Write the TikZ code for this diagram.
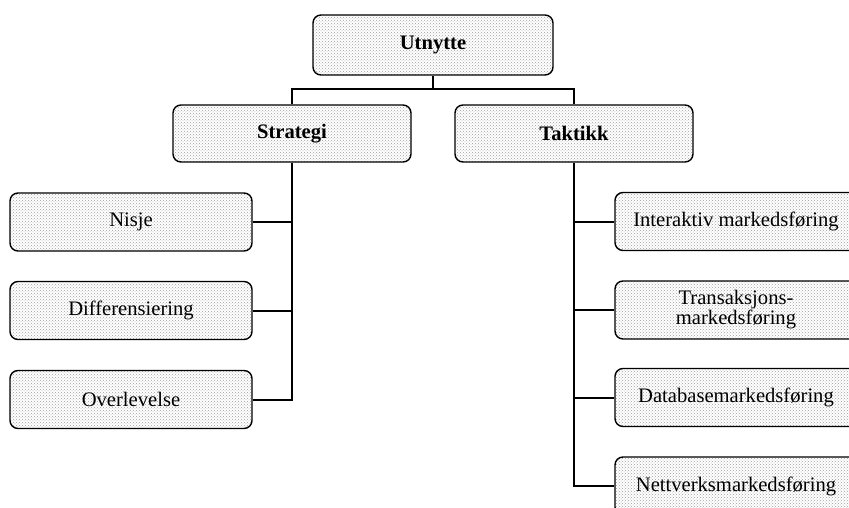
\documentclass[tikz,border=0pt]{standalone}
\usepackage{fontspec}
\setmainfont{Liberation Serif}
\usetikzlibrary{patterns}
\tikzset{
  box/.style={draw=black, line width=1.4pt, rounded corners=8pt,
    preaction={fill=white}, pattern=crosshatch dots, pattern color=gray!75,
    minimum width=242pt, minimum height=58pt, inner sep=0pt, align=center,
    font=\fontsize{20.6}{20}\selectfont},
  topbox/.style={box, font=\fontsize{20.6}{20}\selectfont\bfseries},
  link/.style={draw=black, line width=2pt}
}
\begin{document}
\begin{tikzpicture}[x=1pt,y=-1pt]
  \useasboundingbox (0,0) rectangle (849,508);
  \clip (0,0) rectangle (849,508);
  % levels
  \node[topbox, minimum width=240pt, minimum height=60pt] (u) at (433,45) {Utnytte};
  \node[topbox, minimum width=238pt, minimum height=57pt] (s) at (292,133.5) {Strategi};
  \node[topbox, minimum width=238pt, minimum height=57pt] (t) at (574,133.5) {Taktikk};
  \coordinate (bar) at (433,89);
  % strategy branch
  \node[box] (n) at (131,222) {Nisje};
  \node[box] (d) at (131,310.5) {Differensiering};
  \node[box] (o) at (131,399.5) {Overlevelse};
  % tactics branch
  \node[box] (i) at (736,221.5) {Interaktiv markedsføring};
  \node[box] (r) at (736,310) {Transaksjons-\\markedsføring};
  \node[box] (b) at (736,397.5) {Databasemarkedsføring};
  \node[box] (w) at (736,486) {Nettverksmarkedsføring};
  % connectors
  \draw[link] (u.south) -- (bar);
  \draw[link] (s.north) |- (bar) -| (t.north);
  \draw[link] (s.south) |- (o.east);
  \draw[link] (n.east) -- (n.east -| s.south);
  \draw[link] (d.east) -- (d.east -| s.south);
  \draw[link] (t.south) |- (w.west);
  \draw[link] (i.west) -- (i.west -| t.south);
  \draw[link] (r.west) -- (r.west -| t.south);
  \draw[link] (b.west) -- (b.west -| t.south);
\end{tikzpicture}
\end{document}
